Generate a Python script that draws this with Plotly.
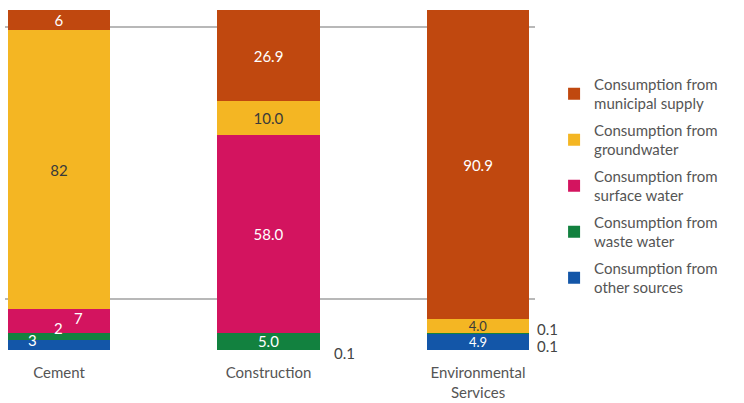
import plotly.graph_objects as go
import numpy as np

categories = ["Cement", "Construction", "Environmental<br>Services"]
series_names = [
    "Consumption from<br>other sources",
    "Consumption from<br>waste water",
    "Consumption from<br>surface water",
    "Consumption from<br>groundwater",
    "Consumption from<br>municipal supply",
]
other_sources = [3, 0.1, 4.9]
waste_water = [2, 5.0, 0.1]
surface_water = [7, 58.0, 0.1]
groundwater = [82, 10.0, 4.0]
municipal = [6, 26.9, 90.9]
label_fmt = ["{:.0f}", "{:.1f}", "{:.1f}"]

series = [other_sources, waste_water, surface_water, groundwater, municipal]
colors = ["#1356A8", "#12813F", "#D3145F", "#F4B623", "#C0480F"]
text_colors = ["white", "white", "white", "#3a3a3a", "white"]

FONT = "Lato"
LBL = 15
fig = go.Figure()

inside_min = 4.0
cement_small = {0: (-27, 5), 1: (-1, 8), 2: (19, 3)}  # series idx -> (xshift, yshift)

for si, (vals, name, col, tcol) in enumerate(zip(series, series_names, colors, text_colors)):
    texts, sizes = [], []
    for ci, v in enumerate(vals):
        if v >= inside_min and not (ci == 0 and si in cement_small):
            texts.append(label_fmt[ci].format(v))
        else:
            texts.append("")
        sizes.append(13 if v < 5 else LBL)
    fig.add_trace(go.Bar(
        x=list(range(len(categories))), y=vals, name=name,
        marker=dict(color=col, line=dict(width=0)),
        width=0.49,
        text=texts, textposition="inside", insidetextanchor="middle",
        textangle=0,
        insidetextfont=dict(family=FONT, size=sizes, color=tcol),
        legendgroup=str(si), legendrank=len(series) - si,
        hoverinfo="skip",
    ))

annotations = []
cum = np.zeros(len(categories))
for si, vals in enumerate(series):
    for ci, v in enumerate(vals):
        mid = cum[ci] + v / 2
        if ci == 0 and si in cement_small:
            xs, ys = cement_small[si]
            annotations.append(dict(x=ci, y=mid, xref="x", yref="y", text=label_fmt[ci].format(v),
                                    showarrow=False, xshift=xs, yshift=ys,
                                    font=dict(family=FONT, size=LBL, color="white")))
        elif v < inside_min and ci != 0:
            if ci == 1:
                xs, ys = 76, -3
            else:
                xs = 69
                ys = 4 if si == 2 else -13
            if ci == 2 and si not in (1, 2):
                pass
            else:
                annotations.append(dict(x=ci, y=mid, xref="x", yref="y", text=label_fmt[ci].format(v),
                                        showarrow=False, xshift=xs, yshift=ys,
                                        font=dict(family=FONT, size=LBL, color="#444")))
        cum[ci] += v

fig.update_layout(
    barmode="stack",
    width=744, height=403,
    margin=dict(l=5, r=209, t=10, b=53),
    paper_bgcolor="white", plot_bgcolor="white",
    font=dict(family=FONT, size=15, color="#555"),
    uniformtext=dict(minsize=13, mode="show"),
    xaxis=dict(
        tickmode="array", tickvals=list(range(len(categories))), ticktext=categories,
        range=[-0.258, 2.272], showgrid=False, showline=False, zeroline=False,
        tickfont=dict(family=FONT, size=15, color="#555"), ticks="",
        ticklabelstandoff=12, automargin=False,
    ),
    yaxis=dict(
        range=[0, 100], tickvals=[15, 95], showticklabels=False,
        showgrid=True, gridcolor="#b8b8b8", gridwidth=1.5, zeroline=False, showline=False,
        automargin=False,
    ),
    legend=dict(
        x=1.036, y=0.83, xanchor="left", yanchor="top",
        traceorder="grouped", tracegroupgap=4,
        font=dict(family=FONT, size=15, color="#555"),
        itemsizing="constant",
    ),
    annotations=annotations,
    showlegend=True,
)

fig.write_html("out.html", config={"displayModeBar": False},
               post_script="document.body.style.margin='0';")
